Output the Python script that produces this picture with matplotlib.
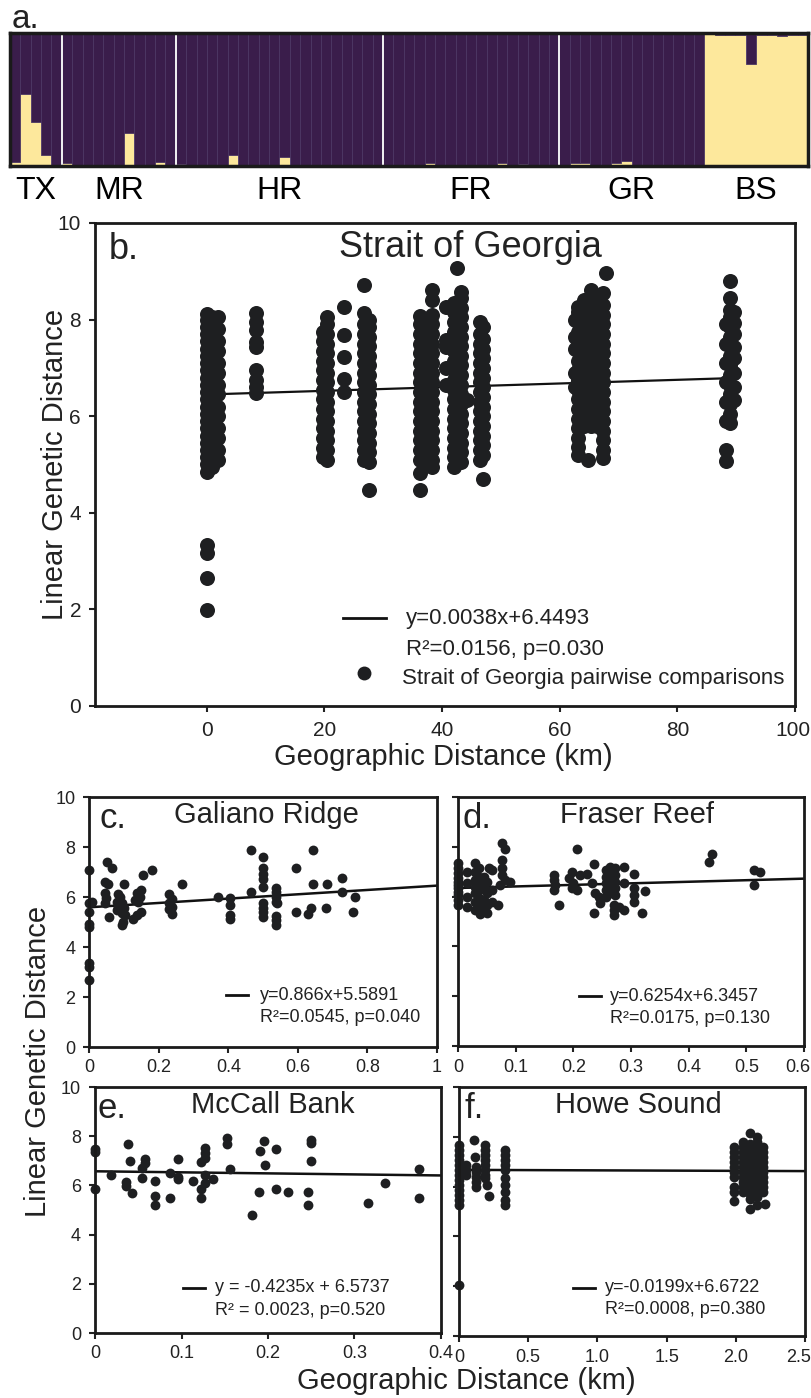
import matplotlib
matplotlib.use("Agg")
import matplotlib.pyplot as plt
import matplotlib.transforms as mtransforms
import numpy as np

plt.rcParams['font.family'] = ['Liberation Sans', 'DejaVu Sans']
plt.rcParams['text.color'] = '#222222'

# ---------------- panel a: structure plot (yellow cluster fraction per individual)
groups = ['TX', 'MR', 'HR', 'FR', 'GR', 'BS']
tx_q = [0.03, 0.54, 0.33, 0.08, 0.0]
mr_q = [0.025, 0.0, 0.005, 0.005, 0.0, 0.0, 0.25, 0.0, 0.01, 0.03, 0.0]
hr_q = [0.015, 0.005, 0.005, 0.005, 0.005, 0.08, 0.0, 0.008, 0.01, 0.0,
        0.065, 0.01, 0.0, 0.0, 0.005, 0.01, 0.0, 0.005, 0.0, 0.005]
fr_q = [0.005, 0.0, 0.003, 0.0, 0.02, 0.0, 0.01, 0.0, 0.0, 0.003,
        0.003, 0.025, 0.0, 0.015, 0.0, 0.003, 0.0]
gr_q = [0.003, 0.02, 0.025, 0.005, 0.0, 0.02, 0.035, 0.0, 0.0, 0.005,
        0.005, 0.005, 0.0, 0.0]
bs_q = [0.99, 0.985, 0.985, 0.985, 0.77, 0.985, 0.985, 0.98, 0.985, 0.985]

# ---------------- panel b: Strait of Georgia (sub-column km, genetic distances)
sog_km = [0.0, 0.9, 1.9, 8.3, 19.7, 20.4, 23.4, 26.7, 27.5, 36.2, 37.2, 38.3,
          40.7, 42.1, 42.6, 43.3, 44.2, 46.5, 46.9, 62.6, 63.1, 64.2, 64.8,
          65.3, 66.3, 67.3, 67.8, 88.3, 88.9, 89.6]
sog_gd = [
    [1.99, 2.64, 3.16, 3.33, 4.85, 5.0, 5.15, 5.3, 5.45, 5.6, 5.75, 5.9, 6.05, 6.2,
     6.35, 6.5, 6.65, 6.8, 6.95, 7.1, 7.25, 7.4, 7.55, 7.7, 7.85, 8.0, 8.12],
    [4.95, 5.2, 5.4, 5.65, 5.85, 6.1, 6.3, 6.55, 6.75, 7.0, 7.2, 7.45, 7.65, 7.9, 8.05],
    [5.1, 5.3, 5.55, 5.75, 6.0, 6.2, 6.45, 6.65, 6.9, 7.1, 7.35, 7.55, 7.8, 8.05],
    [6.47, 6.61, 6.75, 6.96, 7.44, 7.54, 7.78, 7.96, 8.13],
    [5.15, 5.35, 5.55, 5.75, 5.95, 6.15, 6.35, 6.55, 6.75, 6.95, 7.15, 7.35, 7.55, 7.75],
    [5.1, 5.3, 5.5, 5.7, 5.9, 6.1, 6.3, 6.5, 6.7, 6.9, 7.1, 7.3, 7.5, 7.7, 7.9, 8.05],
    [6.51, 6.78, 7.22, 7.68, 8.27],
    [5.1, 5.3, 5.5, 5.7, 5.9, 6.1, 6.3, 6.5, 6.7, 6.9, 7.1, 7.3, 7.5, 7.7, 7.9, 8.13, 8.72],
    [4.47, 5.05, 5.25, 5.45, 5.65, 5.85, 6.05, 6.25, 6.45, 6.65, 6.85, 7.05, 7.25,
     7.45, 7.65, 7.85, 8.0],
    [4.47, 4.82, 5.1, 5.3, 5.5, 5.7, 5.9, 6.1, 6.3, 6.5, 6.7, 6.9, 7.1, 7.3, 7.5,
     7.7, 7.9, 8.08],
    [5.0, 5.2, 5.4, 5.6, 5.8, 6.0, 6.2, 6.4, 6.6, 6.8, 7.0, 7.2, 7.4, 7.6, 7.8, 8.0],
    [4.95, 5.1, 5.3, 5.5, 5.7, 5.9, 6.1, 6.3, 6.5, 6.7, 6.9, 7.1, 7.3, 7.5, 7.7,
     7.9, 8.1, 8.4, 8.61],
    [6.65, 6.99, 7.44, 7.58, 8.27],
    [4.95, 5.15, 5.35, 5.55, 5.75, 5.95, 6.15, 6.35, 6.55, 6.75, 6.95, 7.15, 7.35,
     7.55, 7.75, 7.95, 8.15, 8.35],
    [9.06],
    [5.05, 5.25, 5.45, 5.65, 5.85, 6.05, 6.25, 6.45, 6.65, 6.85, 7.05, 7.25, 7.45,
     7.65, 7.85, 8.05, 8.25, 8.45, 8.58],
    [6.33],
    [5.1, 5.3, 5.5, 5.7, 5.9, 6.1, 6.3, 6.5, 6.7, 6.9, 7.1, 7.3, 7.5, 7.7, 7.96],
    [4.69, 5.2, 5.4, 5.6, 5.8, 6.0, 6.2, 6.4, 6.6, 6.8, 7.0, 7.2, 7.4, 7.6, 7.85],
    [6.6, 6.9, 7.4, 7.65, 8.0],
    [5.2, 5.37, 5.55, 5.75, 5.95, 6.15, 6.35, 6.55, 6.75, 6.95, 7.15, 7.35, 7.55,
     7.75, 7.95, 8.15, 8.27],
    [5.8, 6.0, 6.2, 6.4, 6.6, 6.8, 7.0, 7.2, 7.4, 7.6, 7.8, 8.0, 8.2, 8.4],
    [5.09],
    [5.8, 6.0, 6.2, 6.4, 6.6, 6.8, 7.0, 7.2, 7.4, 7.6, 7.8, 8.0, 8.2, 8.4, 8.61],
    [5.8, 6.0, 6.2, 6.4, 6.6, 6.8, 7.0, 7.2, 7.4, 7.6, 7.8, 8.0, 8.2, 8.4],
    [5.13, 5.3, 5.5, 5.7, 5.9, 6.1, 6.3, 6.5, 6.7, 6.9, 7.1, 7.3, 7.5, 7.7, 7.9,
     8.1, 8.3, 8.55],
    [8.96],
    [5.08, 5.3, 5.9, 6.3, 6.7, 7.1, 7.5, 7.9],
    [5.85, 6.05, 6.25, 6.45, 6.65, 6.85, 7.05, 7.25, 7.45, 7.65, 7.85, 8.05, 8.2,
     8.44, 8.79],
    [6.34, 6.6, 6.89, 7.2, 7.44, 7.7, 7.92, 8.16],
]

# ---------------- panel c: Galiano Ridge
gal_x = [0, 0, 0, 0, 0, 0, 0, 0, 0.007,
         0.049, 0.064, 0.045, 0.052, 0.045, 0.048, 0.045, 0.056,
         0.1, 0.081, 0.088, 0.078, 0.093, 0.083, 0.1, 0.078, 0.093, 0.102, 0.097, 0.094,
         0.155, 0.179, 0.148, 0.136, 0.145, 0.131, 0.14, 0.148, 0.136, 0.126,
         0.228, 0.236, 0.228, 0.236, 0.228, 0.236, 0.265,
         0.371, 0.404, 0.404, 0.404, 0.404, 0.464, 0.464,
         0.498, 0.498, 0.498, 0.498, 0.498, 0.498, 0.498, 0.498, 0.498,
         0.537, 0.537, 0.537, 0.537, 0.541, 0.537, 0.537, 0.537,
         0.593, 0.593, 0.63, 0.637, 0.644, 0.644, 0.68, 0.684, 0.726, 0.726, 0.764, 0.759]
gal_y = [7.08, 5.75, 5.41, 4.91, 4.81, 3.35, 3.21, 2.68, 5.8,
         7.39, 7.15, 6.61, 6.51, 6.15, 5.95, 5.75, 5.21,
         6.51, 6.11, 6.01, 5.81, 5.75, 5.61, 5.55, 5.48, 5.35, 5.28, 4.99, 4.88,
         6.88, 7.08, 6.28, 6.15, 6.01, 5.88, 5.81, 5.39, 5.28, 5.12,
         6.11, 5.92, 5.75, 5.61, 5.52, 5.31, 6.51,
         6.01, 5.95, 5.68, 5.28, 5.12, 7.88, 6.19,
         7.61, 7.17, 6.91, 6.72, 6.41, 5.75, 5.57, 5.39, 5.21,
         6.37, 6.21, 6.01, 5.81, 5.75, 5.24, 5.08, 4.88,
         7.15, 5.39, 5.31, 5.57, 7.88, 6.51, 5.57, 6.51, 6.77, 6.19, 6.01, 5.39]

# ---------------- panel d: Fraser Reef
fra_x = [0, 0, 0, 0, 0, 0, 0, 0, 0, 0, 0,
         0.016, 0.016, 0.016, 0.016,
         0.03, 0.03, 0.03, 0.03, 0.03, 0.03, 0.03,
         0.036, 0.036, 0.036, 0.036, 0.036, 0.036, 0.039,
         0.045, 0.045, 0.045, 0.045, 0.05, 0.05, 0.05, 0.05, 0.054, 0.059, 0.059, 0.059,
         0.076, 0.076, 0.076, 0.076, 0.082, 0.082, 0.091, 0.07, 0.073,
         0.166, 0.166, 0.169, 0.166, 0.176,
         0.206, 0.198, 0.192, 0.2, 0.198, 0.206, 0.212, 0.224, 0.235,
         0.232, 0.238, 0.244, 0.247, 0.235,
         0.256, 0.256, 0.256, 0.256, 0.256, 0.264, 0.264, 0.264, 0.264, 0.264,
         0.273, 0.273, 0.273, 0.273, 0.273, 0.27, 0.27, 0.27, 0.279,
         0.287, 0.287, 0.287, 0.306, 0.306, 0.306, 0.306, 0.325, 0.319,
         0.435, 0.44, 0.513, 0.513, 0.524]
fra_y = [7.33, 7.13, 6.93, 6.73, 6.6, 6.46, 6.33, 6.19, 6.06, 5.86, 5.66,
         7.0, 6.53, 5.99, 5.59,
         7.33, 7.0, 6.66, 6.4, 6.13, 5.79, 5.46,
         7.13, 6.8, 6.53, 6.26, 5.93, 5.59, 5.32,
         6.8, 6.33, 5.86, 5.53, 6.6, 6.13, 5.66, 5.36, 7.13, 7.06, 6.26, 5.79,
         8.14, 7.47, 7.13, 6.86, 7.93, 6.66, 6.6, 5.66, 6.46,
         6.86, 6.66, 6.46, 6.26, 5.66,
         7.91, 7.0, 6.73, 6.53, 6.33, 6.26, 6.86, 6.89, 7.29,
         6.53, 6.13, 5.99, 5.73, 5.36,
         7.06, 6.8, 6.53, 6.26, 5.99, 7.2, 6.93, 6.66, 6.4, 6.13,
         7.13, 6.86, 6.6, 6.33, 6.06, 5.66, 5.46, 5.26, 5.59,
         7.2, 6.53, 5.46, 6.89, 6.33, 6.06, 5.79, 6.22, 5.36,
         7.4, 7.71, 7.06, 6.46, 6.97]

# ---------------- panel e: McCall Bank
mcc_x = [0, 0, 0, 0.018, 0.038, 0.04, 0.036, 0.036, 0.043, 0.054, 0.054, 0.058, 0.058,
         0.069, 0.069, 0.069, 0.087, 0.087, 0.096, 0.096, 0.096, 0.113,
         0.122, 0.122, 0.122, 0.127, 0.127, 0.127, 0.127, 0.127, 0.136,
         0.153, 0.153, 0.156, 0.181, 0.19, 0.191, 0.195, 0.196, 0.209, 0.209, 0.223,
         0.246, 0.246, 0.25, 0.25, 0.25, 0.316, 0.335, 0.375, 0.375]
mcc_y = [7.5, 7.34, 5.85, 6.42, 7.67, 7.0, 6.15, 5.99, 5.68, 6.69, 6.31, 7.06, 6.92,
         6.18, 5.58, 5.2, 6.49, 5.5, 7.07, 6.35, 6.26, 6.18,
         6.94, 5.85, 5.5, 7.53, 7.3, 7.13, 6.42, 6.08, 6.26,
         7.94, 7.67, 6.65, 4.8, 5.75, 7.4, 7.8, 6.83, 7.48, 5.84, 5.75,
         5.75, 5.2, 7.84, 7.71, 7.0, 5.3, 6.08, 6.65, 5.47]

# ---------------- panel f: Howe Sound
how_x = [0, 0, 0, 0, 0, 0, 0, 0, 0, 0, 0, 0, 0, 0,
         0.05, 0.05, 0.05, 0.106, 0.118, 0.12, 0.12, 0.12, 0.12, 0.12,
         0.19, 0.19, 0.19, 0.19, 0.19, 0.19, 0.19, 0.19, 0.2, 0.22,
         0.33, 0.33, 0.33, 0.33, 0.33, 0.33, 0.33, 0.33, 0.33, 0.33,
         1.99, 1.99, 1.99, 1.99, 1.99, 1.99, 1.99, 1.99, 1.99, 1.99,
         2.05, 2.05, 2.05, 2.05, 2.05, 2.05, 2.05, 2.05, 2.05, 2.05, 2.05,
         2.1, 2.1, 2.1, 2.1, 2.1, 2.1, 2.1, 2.1, 2.1, 2.1, 2.1, 2.1, 2.1, 2.1,
         2.15, 2.15, 2.15, 2.15, 2.15, 2.15, 2.15, 2.15, 2.15, 2.15, 2.15, 2.15, 2.15, 2.15,
         2.2, 2.2, 2.2, 2.2, 2.2, 2.2, 2.2, 2.2, 2.2, 2.2, 2.21]
how_y = [7.67, 7.47, 7.27, 7.06, 6.86, 6.66, 6.46, 6.26, 6.06, 5.86, 5.66, 5.46, 5.28, 2.05,
         6.86, 6.66, 6.46, 7.87, 7.2, 6.8, 6.6, 6.4, 6.2, 6.0,
         7.67, 7.47, 7.27, 7.06, 6.86, 6.66, 6.46, 6.33, 6.06, 5.62,
         7.47, 7.27, 7.06, 6.86, 6.66, 6.33, 6.06, 5.79, 5.46, 5.26,
         7.6, 7.4, 7.2, 7.0, 6.8, 6.6, 6.4, 6.0, 5.8, 5.42,
         7.8, 7.6, 7.4, 7.2, 7.0, 6.8, 6.6, 6.4, 6.2, 6.0, 5.8,
         8.14, 7.7, 7.5, 7.3, 7.1, 6.9, 6.7, 6.5, 6.3, 6.1, 5.9, 5.7, 5.5, 5.12,
         8.0, 7.8, 7.6, 7.4, 7.2, 7.0, 6.8, 6.6, 6.4, 6.2, 6.0, 5.8, 5.6, 5.26,
         7.6, 7.4, 7.2, 7.0, 6.8, 6.6, 6.4, 6.2, 6.0, 5.8, 5.3]

# regression fits (slope, intercept, x range)
fits = {
    'b': (0.0038, 6.4493, 0, 89),
    'c': (0.866, 5.5891, 0, 1.0),
    'd': (0.6254, 6.3457, 0, 0.6),
    'e': (-0.4235, 6.5737, 0, 0.4),
    'f': (-0.0199, 6.6722, 0, 2.5),
}

PURPLE = '#3a1d4b'
YELLOW = '#fde89c'
DOT = '#1e1f21'
W, H = 812, 1398


def box(l, t, r, b):
    return [l / W, 1 - b / H, (r - l) / W, (b - t) / H]


fig = plt.figure(figsize=(W / 100, H / 100), dpi=100)

# ---- a
axa = fig.add_axes(box(10, 33, 808, 166))
q = np.array(tx_q + mr_q + hr_q + fr_q + gr_q + bs_q)
sizes = np.array([len(tx_q), len(mr_q), len(hr_q), len(fr_q), len(gr_q), len(bs_q)])
idx = np.arange(len(q))
axa.bar(idx, q, width=1.0, color=YELLOW, linewidth=0)
axa.bar(idx, 1 - q, bottom=q, width=1.0, color=PURPLE, edgecolor='#4c3764', linewidth=0.6)
ends = np.cumsum(sizes)
axa.vlines(ends[:4] - 0.5, 0, 1, color='#f2f2f2', lw=1.4)
axa.set_xlim(-0.5, len(q) - 0.5)
axa.set_ylim(0, 1)
axa.set_yticks([])
axa.set_xticks(ends - sizes / 2 - 0.5, groups)
axa.tick_params(axis='x', length=0, labelsize=23, pad=7)
for s in axa.spines.values():
    s.set_linewidth(2.5)
    s.set_color('#1a1a1a')
fig.text(12 / W, 1 - 28 / H, 'a.', fontsize=24)


def style(ax, xlim, xticks, xlabels, ylabels, tsize=13, xpad=5):
    ax.set_xlim(*xlim)
    ax.set_ylim(0, 10)
    ax.set_xticks(xticks, xlabels)
    ax.set_yticks(range(0, 11, 2))
    if not ylabels:
        ax.set_yticklabels([])
    ax.tick_params(direction='out', length=4, width=1.5, labelsize=tsize,
                   colors='#222222')
    ax.tick_params(axis='x', pad=xpad)
    ax.tick_params(axis='y', pad=6)
    for s in ax.spines.values():
        s.set_linewidth(2)
        s.set_color('#1a1a1a')


def nudge_last(ax, dx_px):
    # keep the right-most tick label inside the figure
    lbl = ax.get_xticklabels()[-1]
    off = mtransforms.ScaledTranslation(dx_px / 100, 0, fig.dpi_scale_trans)
    lbl.set_transform(lbl.get_transform() + off)


def fit_line(ax, key, lw):
    m, c0, x0, x1 = fits[key]
    xs = np.array([x0, x1])
    ax.plot(xs, m * xs + c0, color='#111111', lw=lw, zorder=1, solid_capstyle='butt')


# ---- b
axb = fig.add_axes(box(95, 223, 795, 706))
bx = np.concatenate([[k] * len(v) for k, v in zip(sog_km, sog_gd)])
by = np.concatenate(sog_gd)
fit_line(axb, 'b', 1.6)
axb.scatter(bx, by, s=117, color=DOT, linewidths=0, zorder=2)
style(axb, (-19, 100), range(0, 101, 20), [str(v) for v in range(0, 101, 20)], True,
      15, 7)
nudge_last(axb, -2)
fig.text(109 / W, 1 - 259 / H, 'b.', fontsize=26)
fig.text(470 / W, 1 - 257 / H, 'Strait of Georgia', fontsize=26, ha='center')
fig.text(55 / W, 1 - 464 / H, 'Linear Genetic Distance', fontsize=21, rotation=90,
         ha='center', va='center')
fig.text(443 / W, 1 - 757 / H, 'Geographic Distance (km)', fontsize=21,
         ha='center', va='center')
tb = axb.transAxes
axb.plot([0.354, 0.416], [0.182, 0.182], color='#111111', lw=2, transform=tb)
axb.text(0.444, 0.182, 'y=0.0038x+6.4493', fontsize=16, va='center', transform=tb)
axb.text(0.444, 0.116, 'R²=0.0156, p=0.030', fontsize=16, va='center', transform=tb)
axb.scatter([0.385], [0.068], s=100, color=DOT, linewidths=0, transform=tb)
axb.text(0.439, 0.057, 'Strait of Georgia pairwise comparisons', fontsize=16,
         va='center', transform=tb)

# ---- c-f
panels = [
    ('c', box(89.5, 797, 437, 1047), gal_x, gal_y, (0, 1.0),
     [0, 0.2, 0.4, 0.6, 0.8, 1.0], ['0', '0.2', '0.4', '0.6', '0.8', '1'], True,
     'Galiano Ridge', 'y=0.866x+5.5891', 'R²=0.0545, p=0.040',
     (0.393, 0.456, 0.49, 0.208, 0.116), (100, 828, 266, 823)),
    ('d', box(458, 797, 804, 1046), fra_x, fra_y, (0, 0.6),
     [0, 0.1, 0.2, 0.3, 0.4, 0.5, 0.6], ['0', '0.1', '0.2', '0.3', '0.4', '0.5', '0.6'],
     False, 'Fraser Reef', 'y=0.6254x+6.3457', 'R²=0.0175, p=0.130',
     (0.349, 0.412, 0.438, 0.2, 0.112), (463, 828, 637, 823)),
    ('e', box(95, 1087, 441, 1333), mcc_x, mcc_y, (0, 0.4),
     [0, 0.1, 0.2, 0.3, 0.4], ['0', '0.1', '0.2', '0.3', '0.4'], True,
     'McCall Bank', 'y = -0.4235x + 6.5737', 'R² = 0.0023, p=0.520',
     (0.254, 0.318, 0.347, 0.183, 0.093), (98, 1118, 273, 1113)),
    ('f', box(459, 1087, 805, 1336), how_x, how_y, (0, 2.5),
     [0, 0.5, 1.0, 1.5, 2.0, 2.5], ['0', '0.5', '1.0', '1.5', '2.0', '2.5'], False,
     'Howe Sound', 'y=-0.0199x+6.6722', 'R²=0.0008, p=0.380',
     (0.33, 0.393, 0.422, 0.193, 0.108), (465, 1118, 638, 1113)),
]
for key, rect, xs, ys, xlim, xt, xl, ylab, title, eq, r2, leg, lab in panels:
    ax = fig.add_axes(rect)
    fit_line(ax, key, 1.8)
    ax.scatter(xs, ys, s=50, color=DOT, linewidths=0, zorder=2, clip_on=False)
    style(ax, xlim, xt, xl, ylab)
    if key in ('d', 'f'):
        nudge_last(ax, -6)
    t = ax.transAxes
    ax.plot([leg[0], leg[1]], [leg[3], leg[3]], color='#111111', lw=2, transform=t)
    ax.text(leg[2], leg[3], eq, fontsize=13, va='center', transform=t)
    ax.text(leg[2], leg[4], r2, fontsize=13, va='center', transform=t)
    fig.text(lab[0] / W, 1 - lab[1] / H, key + '.', fontsize=25)
    fig.text(lab[2] / W, 1 - lab[3] / H, title, fontsize=21, ha='center')

fig.text(38 / W, 1 - 1061 / H, 'Linear Genetic Distance', fontsize=21, rotation=90,
         ha='center', va='center')
fig.text(466 / W, 1 - 1389 / H, 'Geographic Distance (km)', fontsize=21,
         ha='center', va='baseline')

fig.savefig('out.png', dpi=100)
